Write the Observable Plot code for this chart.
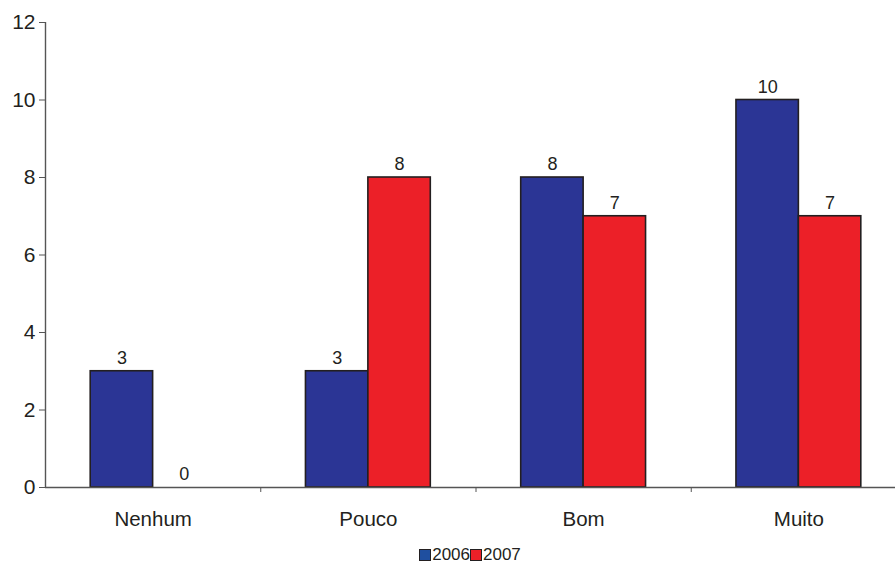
<!DOCTYPE html>
<html>
<head>
<meta charset="utf-8">
<script src="https://cdn.jsdelivr.net/npm/d3@7"></script>
<script src="https://cdn.jsdelivr.net/npm/@observablehq/plot@0.6"></script>
<style>
  html, body { margin: 0; padding: 0; background: #fff; }
  body { width: 895px; height: 564px; overflow: hidden; font-family: "Liberation Sans", Arial, sans-serif; color: #231f20; }
  #legend { display: flex; justify-content: center; align-items: center; margin-left: 45px; font-size: 17px; height: 20px; line-height: 20px; }
  #legend .item { display: flex; align-items: center; }
  #legend .sw { width: 12px; height: 12px; border: 1.5px solid #231f20; margin-right: 1px; box-sizing: border-box; }
</style>
</head>
<body>
<div id="chart"></div>
<div id="legend"></div>
<script>
// Categories, series and tick labels
const categories = ["Nenhum", "Pouco", "Bom", "Muito"];
const years = ["2006", "2007"];
const values2006 = [3, 3, 8, 10];
const values2007 = [0, 8, 7, 7];
const yTicks = [0, 2, 4, 6, 8, 10, 12];

const barColors = ["#2b3595", "#ec2028"];
const legendColors = ["#1f4f9f", "#ec2028"];

// Each category occupies one unit of x; the two bars sit side by side in its middle
const groupStart = 0.21, groupMid = 0.5, groupEnd = 0.79;

const rows = [];
categories.forEach((c, i) => {
  rows.push({category: c, year: years[0], value: values2006[i], x1: i + groupStart, x2: i + groupMid});
  rows.push({category: c, year: years[1], value: values2007[i], x1: i + groupMid, x2: i + groupEnd});
});

const boundaries = d3.range(1, categories.length + 1);
const centers = categories.map((_, i) => i + 0.5);

const chart = Plot.plot({
  width: 895,
  height: 545,
  marginLeft: 45,
  marginRight: 0,
  marginTop: 22,
  marginBottom: 58,
  style: {fontFamily: "'Liberation Sans', Arial, sans-serif", color: "#231f20", background: "#fff"},
  x: {type: "linear", domain: [0, categories.length], range: [45, 906]},
  y: {type: "linear", domain: [0, 12], range: [487, 22]},
  marks: [
    Plot.rect(rows, {
      x1: "x1", x2: "x2", y1: () => 0, y2: "value",
      fill: (d) => barColors[years.indexOf(d.year)],
      stroke: "#231f20", strokeWidth: 1.6
    }),
    Plot.text(rows, {
      x: (d) => (d.x1 + d.x2) / 2, y: "value", text: (d) => String(d.value),
      dy: -13, fontSize: 18, fill: "#231f20"
    }),
    // y axis
    Plot.ruleX([0], {stroke: "#555", strokeWidth: 1.4}),
    Plot.axisY({ticks: yTicks, tickSize: 6, tickPadding: 4, fontSize: 21, stroke: "#555", fill: "#231f20", label: null, tickFormat: (d) => String(d)}),
    // x axis: baseline, category boundary ticks, centred category labels
    Plot.ruleY([0], {stroke: "#555", strokeWidth: 1.4}),
    Plot.axisX({ticks: boundaries, tickSize: 5, tickFormat: () => "", stroke: "#555", label: null}),
    Plot.axisX({ticks: centers, tickSize: 0, tickPadding: 24, tickFormat: (d) => categories[Math.floor(d)], fontSize: 20.5, fill: "#231f20", label: null})
  ]
});
document.getElementById("chart").appendChild(chart);

// Legend below the plot
const legend = d3.select("#legend");
years.forEach((y, i) => {
  const item = legend.append("div").attr("class", "item");
  item.append("div").attr("class", "sw").style("background", legendColors[i]);
  item.append("span").text(y);
});
</script>
</body>
</html>
